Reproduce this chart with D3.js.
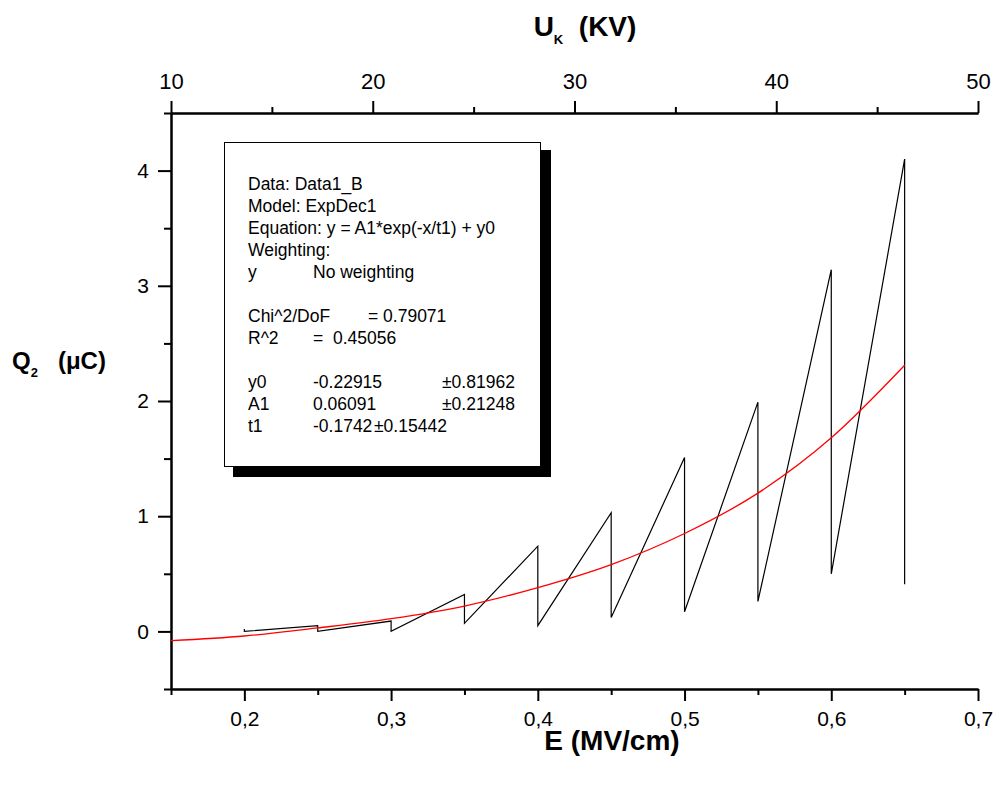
<!DOCTYPE html>
<meta charset="utf-8">
<style>
  body { margin: 0; background: #fff; }
  svg { display: block; font-family: "Liberation Sans", Arial, sans-serif; }
  .pre { white-space: pre; }
</style>
<svg width="999" height="787"></svg>
<script src="https://d3js.org/d3.v7.min.js"></script>
<script>

// measured sawtooth: E (MV/cm) and Q2 (uC)
var fieldE = [0.2, 0.2, 0.25, 0.25, 0.3, 0.3, 0.35, 0.35, 0.4, 0.4,
              0.45, 0.45, 0.5, 0.5, 0.55, 0.55, 0.6, 0.6, 0.65, 0.65];
var charge = [0.02, 0.0, 0.05, 0.0, 0.09, 0.0, 0.32, 0.07, 0.74, 0.05,
              1.03, 0.12, 1.51, 0.17, 1.99, 0.26, 3.14, 0.50, 4.10, 0.41];

// ExpDec1 fit curve
var fitE = [0.15, 0.2, 0.25, 0.3, 0.35, 0.4, 0.45, 0.5, 0.55, 0.6, 0.65];
var fitQ = [-0.08, -0.04, 0.03, 0.11, 0.22, 0.38, 0.58, 0.85, 1.20, 1.68, 2.31];

// axes
var eMajor = [0.2, 0.3, 0.4, 0.5, 0.6, 0.7];
var eLabels = ["0,2", "0,3", "0,4", "0,5", "0,6", "0,7"];
var eMinor = [0.15, 0.25, 0.35, 0.45, 0.55, 0.65];
var uMajor = [10, 20, 30, 40, 50];
var uMinor = [15, 25, 35, 45];
var qMajor = [0, 1, 2, 3, 4];
var qMinor = [-0.5, 0.5, 1.5, 2.5, 3.5, 4.5];

var fitInfo = [
  ["Data: Data1_B"],
  ["Model: ExpDec1"],
  ["Equation: y = A1*exp(-x/t1) + y0"],
  ["Weighting:"],
  ["y", "No weighting"],
  [],
  ["Chi^2/DoF", null, "= 0.79071"],
  ["R^2", "=  0.45056"],
  [],
  ["y0", "-0.22915", null, null, "±0.81962"],
  ["A1", "0.06091", null, null, "±0.21248"],
  ["t1", "-0.1742", null, "±0.15442"]
];

var svg = d3.select("svg"),
    margin = {top: 113, right: 21, bottom: 98, left: 171},
    width = +svg.attr("width") - margin.left - margin.right,
    height = +svg.attr("height") - margin.top - margin.bottom,
    g = svg.append("g").attr("transform", "translate(" + margin.left + "," + margin.top + ")");

var x = d3.scaleLinear().domain([0.15, 0.7]).range([0, width]);
var xTop = d3.scaleLinear().domain([10, 50]).range([0, width]);
var y = d3.scaleLinear().domain([-0.5, 4.5]).range([height, 0]);

function styleAxis(sel, size) {
  sel.selectAll("path.domain").attr("stroke-width", 2);
  sel.selectAll(".tick line").attr("stroke-width", 2);
  sel.selectAll(".tick text").attr("font-family", null).attr("font-size", size).attr("fill", "#000");
  sel.attr("font-family", null);
}

// bottom
g.append("g")
    .attr("transform", "translate(0," + height + ")")
    .call(d3.axisBottom(x).tickValues(eMinor).tickSize(6).tickSizeOuter(0).tickFormat(""))
    .call(styleAxis, 21);
g.append("g")
    .attr("transform", "translate(0," + height + ")")
    .call(d3.axisBottom(x).tickValues(eMajor).tickSize(12).tickPadding(10).tickSizeOuter(0)
      .tickFormat(function(d, i) { return eLabels[i]; }))
    .call(styleAxis, 21);

// top
g.append("g")
    .call(d3.axisTop(xTop).tickValues(uMinor).tickSize(6).tickSizeOuter(0).tickFormat(""))
    .call(styleAxis, 22);
g.append("g")
    .call(d3.axisTop(xTop).tickValues(uMajor).tickSize(12).tickPadding(12).tickSizeOuter(0))
    .call(styleAxis, 22);

// left
g.append("g")
    .call(d3.axisLeft(y).tickValues(qMinor).tickSize(7).tickSizeOuter(0).tickFormat(""))
    .call(styleAxis, 21);
g.append("g")
    .call(d3.axisLeft(y).tickValues(qMajor).tickSize(13).tickPadding(9).tickSizeOuter(0)
      .tickFormat(d3.format("d")))
    .call(styleAxis, 21);

// fit parameters box with shadow
var box = g.append("g").attr("transform", "translate(53,29)");
box.append("rect")
    .attr("x", 9).attr("y", 8).attr("width", 318).attr("height", 327)
    .attr("fill", "#000");
box.append("rect")
    .attr("x", 0.5).attr("y", 0.5).attr("width", 316).attr("height", 324)
    .attr("fill", "#fff").attr("stroke", "#000").attr("stroke-width", 1);

var colX = [24, 89, 144, 150, 218];
fitInfo.forEach(function(row, i) {
  row.forEach(function(s, j) {
    if (s == null) return;
    box.append("text")
        .attr("class", "pre")
        .attr("x", colX[j])
        .attr("y", 48 + i * 22)
        .attr("font-size", 17.5)
        .text(s);
  });
});

// data
var line = d3.line()
    .x(function(d) { return x(d[0]); })
    .y(function(d) { return y(d[1]); });

g.append("path")
    .datum(d3.zip(fieldE, charge))
    .attr("fill", "none")
    .attr("stroke", "#000")
    .attr("stroke-width", 1.2)
    .attr("d", line);

g.append("path")
    .datum(d3.zip(fitE, fitQ))
    .attr("fill", "none")
    .attr("stroke", "#ff0000")
    .attr("stroke-width", 1.3)
    .attr("d", line.curve(d3.curveMonotoneX));

// titles
var topTitle = svg.append("text")
    .attr("class", "pre")
    .attr("x", 585).attr("y", 36)
    .attr("text-anchor", "middle")
    .attr("font-weight", "bold")
    .attr("font-size", 28);
topTitle.append("tspan").text("U");
topTitle.append("tspan").attr("font-size", 13).attr("dy", 8).text("K");
topTitle.append("tspan").attr("dy", -8).text("  (KV)");

svg.append("text")
    .attr("x", 612).attr("y", 750)
    .attr("text-anchor", "middle")
    .attr("font-weight", "bold")
    .attr("font-size", 28)
    .text("E (MV/cm)");

var qTitle = svg.append("text")
    .attr("class", "pre")
    .attr("x", 12).attr("y", 369)
    .attr("font-weight", "bold")
    .attr("font-size", 24);
qTitle.append("tspan").text("Q");
qTitle.append("tspan").attr("font-size", 13).attr("dy", 8).text("2");
qTitle.append("tspan").attr("dy", -8).text("   (\u03bcC)");

</script>
